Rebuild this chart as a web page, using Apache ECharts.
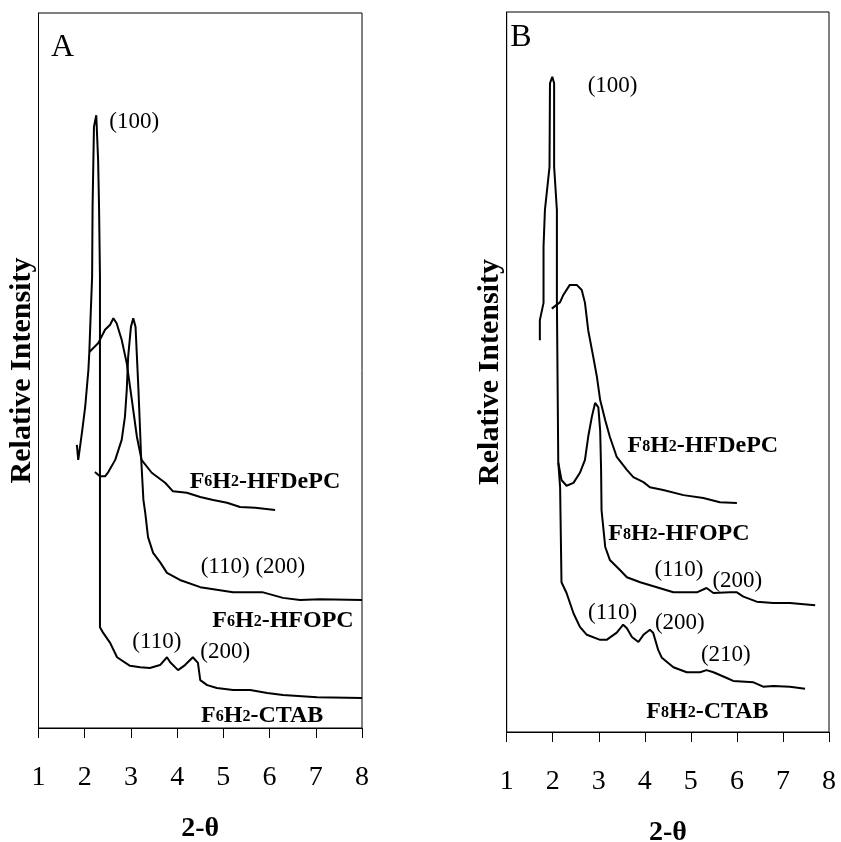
<!DOCTYPE html>
<html>
<head>
<meta charset="utf-8">
<script src="https://cdn.jsdelivr.net/npm/echarts@6/dist/echarts.min.js"></script>
<style>
  html, body { margin: 0; padding: 0; background: #fff; }
  #chart { width: 841px; height: 842px; }
</style>
</head>
<body>
<div id="chart"></div>
<script>
// 2-theta ticks
var thetaTicks = [1, 2, 3, 4, 5, 6, 7, 8];

// panel A : F6H2 templates, [2-theta, relative intensity]
var aCtab = [
  [1.83, 39.6], [1.86, 37.5], [1.94, 41.3], [2.01, 44.9], [2.08, 50.1], [2.10, 52.6],
  [2.13, 58.0], [2.16, 63.1], [2.17, 72.9], [2.20, 84.1], [2.25, 85.7], [2.28, 85.5],
  [2.29, 79.4], [2.31, 72.9], [2.33, 63.1], [2.33, 14.1], [2.40, 13.3], [2.55, 11.9],
  [2.70, 9.9], [2.98, 8.7], [3.20, 8.5], [3.41, 8.4], [3.63, 8.8], [3.78, 9.9],
  [3.85, 9.2], [4.02, 8.1], [4.17, 8.8], [4.34, 9.9], [4.45, 9.1], [4.50, 6.7],
  [4.65, 6.0], [4.86, 5.6], [5.21, 5.3], [5.58, 5.3], [5.95, 4.9], [6.29, 4.6],
  [7.03, 4.3], [8.00, 4.2]
];
var aHfdepc = [
  [2.10, 52.6], [2.29, 53.8], [2.44, 55.7], [2.55, 56.4], [2.62, 57.3], [2.69, 56.6],
  [2.80, 54.3], [2.91, 51.0], [3.02, 45.9], [3.13, 40.7], [3.23, 37.5], [3.45, 35.7],
  [3.74, 34.3], [3.91, 33.1], [4.21, 32.9], [4.50, 32.3], [4.78, 31.9], [5.08, 31.5],
  [5.36, 30.9], [5.69, 30.8], [6.12, 30.5]
];
var aHfopc = [
  [2.22, 35.8], [2.33, 35.2], [2.44, 35.2], [2.51, 35.8], [2.66, 37.5], [2.80, 40.3],
  [2.87, 43.5], [2.91, 47.3], [2.94, 51.9], [3.00, 56.1], [3.05, 57.3], [3.10, 56.1],
  [3.13, 51.9], [3.16, 47.7], [3.20, 41.3], [3.22, 37.9], [3.25, 34.3], [3.27, 31.9],
  [3.31, 30.1], [3.37, 26.7], [3.48, 24.5], [3.63, 23.2], [3.78, 21.7], [4.06, 20.7],
  [4.50, 19.7], [5.21, 19.0], [5.73, 19.0], [5.84, 19.0], [6.29, 18.2], [6.66, 17.9],
  [7.09, 18.0], [8.00, 17.9]
];

// panel B : F8H2 templates
var bCtab = [
  [1.72, 54.4], [1.72, 57.2], [1.80, 59.6], [1.80, 67.4], [1.83, 72.5], [1.93, 78.5],
  [1.94, 90.1], [1.99, 91.0], [2.03, 90.1], [2.03, 78.5], [2.09, 72.5], [2.09, 60.0],
  [2.12, 37.5], [2.16, 34.0], [2.19, 20.8], [2.30, 19.3], [2.45, 16.5], [2.59, 14.6],
  [2.74, 13.5], [3.03, 12.8], [3.17, 12.8], [3.39, 13.8], [3.53, 14.9], [3.61, 14.4],
  [3.72, 13.2], [3.86, 12.5], [3.97, 13.5], [4.11, 14.2], [4.18, 13.8], [4.29, 11.4],
  [4.37, 10.3], [4.62, 9.0], [4.91, 8.3], [5.20, 8.3], [5.34, 8.6], [5.49, 8.3],
  [5.78, 7.5], [5.92, 7.1], [6.36, 6.9], [6.57, 6.3], [6.79, 6.4], [7.15, 6.3],
  [7.48, 6.0]
];
var bHfdepc = [
  [1.98, 58.8], [2.16, 59.7], [2.23, 60.7], [2.37, 62.1], [2.52, 62.1], [2.63, 61.4],
  [2.70, 59.6], [2.77, 55.8], [2.88, 52.1], [2.96, 49.3], [3.03, 46.1], [3.14, 43.3],
  [3.24, 41.0], [3.39, 38.2], [3.61, 36.4], [3.75, 35.4], [3.97, 34.7], [4.11, 34.0],
  [4.40, 33.6], [4.84, 32.9], [5.27, 32.5], [5.63, 31.9], [6.00, 31.8]
];
var bHfopc = [
  [2.12, 37.4], [2.19, 35.0], [2.30, 34.2], [2.45, 34.6], [2.59, 36.0], [2.70, 37.8],
  [2.77, 41.0], [2.85, 43.8], [2.92, 45.7], [2.99, 45.1], [3.03, 41.9], [3.05, 36.4],
  [3.06, 30.8], [3.14, 25.7], [3.24, 23.9], [3.46, 22.5], [3.61, 21.5], [3.90, 20.8],
  [4.26, 20.1], [4.62, 19.4], [5.13, 19.4], [5.34, 20.0], [5.49, 19.3], [5.85, 19.4],
  [6.00, 19.4], [6.14, 18.8], [6.43, 18.1], [6.79, 17.9], [7.15, 17.9], [7.70, 17.6]
];

// annotations: [2-theta, intensity, text]
var aNotes = [
  [1.52, 95.2, '{big|A}'],
  [3.07, 84.8, '(100)'],
  [5.90, 34.5, '{b|F}{s|6}{b|H}{s|2}{b|-HFDePC}'],
  [5.64, 22.5, '(110) (200)'],
  [6.29, 15.0, '{b|F}{s|6}{b|H}{s|2}{b|-HFOPC}'],
  [3.56, 12.0, '(110)'],
  [5.04, 10.6, '(200)'],
  [5.84, 1.7, '{b|F}{s|6}{b|H}{s|2}{b|-CTAB}']
];
var bNotes = [
  [1.31, 96.5, '{big|B}'],
  [3.30, 89.7, '(100)'],
  [5.26, 39.7, '{b|F}{s|8}{b|H}{s|2}{b|-HFDePC}'],
  [4.74, 27.5, '{b|F}{s|8}{b|H}{s|2}{b|-HFOPC}'],
  [4.74, 22.5, '(110)'],
  [6.01, 21.0, '(200)'],
  [3.30, 16.5, '(110)'],
  [4.76, 15.1, '(200)'],
  [5.76, 10.7, '(210)'],
  [5.36, 2.8, '{b|F}{s|8}{b|H}{s|2}{b|-CTAB}']
];

var serif = '"Liberation Serif", "Times New Roman", serif';

function xAx(i) {
  return {
    type: 'value', gridIndex: i, min: 1, max: 8, interval: 1,
    axisLine: { lineStyle: { color: '#000', width: 1 } },
    axisTick: { inside: false, length: 10, lineStyle: { color: '#000' } },
    axisLabel: { color: '#000', fontFamily: serif, fontSize: 28, margin: 36 },
    splitLine: { show: false },
    name: '2-θ', nameLocation: 'middle', nameGap: 87,
    nameTextStyle: { color: '#000', fontFamily: serif, fontSize: 28, fontWeight: 'bold' }
  };
}
function yAx(i) {
  return {
    type: 'value', gridIndex: i, min: 0, max: 100,
    axisLine: { show: true, lineStyle: { color: '#000', width: 1 } },
    axisTick: { show: false }, axisLabel: { show: false }, splitLine: { show: false },
    name: 'Relative Intensity', nameLocation: 'middle', nameGap: 1,
    nameTextStyle: { color: '#000', fontFamily: serif, fontSize: 30, fontWeight: 'bold' }
  };
}
function curve(data, i) {
  return {
    type: 'line', xAxisIndex: i, yAxisIndex: i, data: data,
    showSymbol: false, smooth: false, silent: true,
    lineStyle: { color: '#000', width: 2 }
  };
}
function notes(list, i) {
  return {
    type: 'scatter', xAxisIndex: i, yAxisIndex: i, symbolSize: 0, silent: true,
    itemStyle: { opacity: 1 },
    data: list.map(function (n) { return { value: [n[0], n[1]], name: n[2] }; }),
    label: {
      show: true, position: 'inside', color: '#000',
      fontFamily: serif, fontSize: 23,
      formatter: function (p) { return p.name; },
      rich: {
        b: { fontFamily: serif, fontSize: 24, fontWeight: 'bold', color: '#000', verticalAlign: 'bottom' },
        s: { fontFamily: serif, fontSize: 16, fontWeight: 'bold', color: '#000', verticalAlign: 'bottom', padding: [0, 0, 3, 0] },
        big: { fontFamily: serif, fontSize: 32, color: '#000' }
      }
    }
  };
}

var chart = echarts.init(document.getElementById('chart'), null, { renderer: 'canvas' });
chart.setOption({
  animation: false,
  backgroundColor: '#fff',
  grid: [
    { left: 38.5, top: 13, width: 323.5, height: 715, show: true, borderColor: '#000', borderWidth: 1,
      containLabel: false, outerBoundsMode: 'none' },
    { left: 506.7, top: 12, width: 322.3, height: 720, show: true, borderColor: '#000', borderWidth: 1,
      containLabel: false, outerBoundsMode: 'none' }
  ],
  xAxis: [xAx(0), xAx(1)],
  yAxis: [yAx(0), yAx(1)],
  series: [
    curve(aCtab, 0), curve(aHfdepc, 0), curve(aHfopc, 0),
    curve(bCtab, 1), curve(bHfdepc, 1), curve(bHfopc, 1),
    notes(aNotes, 0), notes(bNotes, 1)
  ]
});
</script>
</body>
</html>
